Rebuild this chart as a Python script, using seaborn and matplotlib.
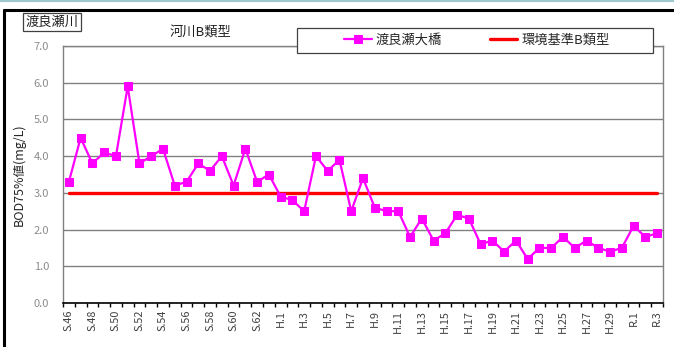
import matplotlib
matplotlib.use("Agg")
import matplotlib.pyplot as plt
from matplotlib.lines import Line2D
from matplotlib.patches import Rectangle
import seaborn as sns
import pandas as pd
import numpy as np

# Fiscal years (Showa 46 – Reiwa 3)
years = ([f"S.{i}" for i in range(46, 64)]
         + [f"H.{i}" for i in range(1, 31)]
         + [f"R.{i}" for i in range(1, 4)])

# BOD 75% values at 渡良瀬大橋 (mg/L)
bod75 = [3.3, 4.5, 3.8, 4.1, 4.0, 5.9, 3.8, 4.0, 4.2, 3.2,
         3.3, 3.8, 3.6, 4.0, 3.2, 4.2, 3.3, 3.5,
         2.9, 2.8, 2.5, 4.0, 3.6, 3.9, 2.5, 3.4, 2.6, 2.5,
         2.5, 1.8, 2.3, 1.7, 1.9, 2.4, 2.3, 1.6, 1.7, 1.4,
         1.7, 1.2, 1.5, 1.5, 1.8, 1.5, 1.7, 1.5, 1.4, 1.5,
         2.1, 1.8, 1.9]

# Environmental standard for river class B
standard_b = [3.0] * len(years)

y_ticks = [0.0, 1.0, 2.0, 3.0, 4.0, 5.0, 6.0, 7.0]

series_name = "渡良瀬大橋"
standard_name = "環境基準B類型"

sns.set_theme(style="white")
plt.rcParams["font.family"] = ["Noto Sans CJK JP", "DejaVu Sans"]

df = pd.DataFrame({"pos": np.arange(len(years)), "year": years,
                   "bod": bod75, "std": standard_b})

W, H = 674, 347
fig = plt.figure(figsize=(W / 100, H / 100), dpi=100)
ax = fig.add_axes([63 / W, 1 - 303 / H, 600 / W, 257 / H])

sns.lineplot(data=df, x="pos", y="std", ax=ax, color="#ff0000",
             linewidth=2.4, label=standard_name, zorder=2)
sns.lineplot(data=df, x="pos", y="bod", ax=ax, color="#ff00ff",
             linewidth=1.6, marker="s", markersize=5.8,
             markeredgecolor="#ff00ff", label=series_name, zorder=3)

ax.set_xlim(-0.5, len(years) - 0.5)
ax.set_ylim(0, 7)
ax.set_yticks(y_ticks)
ax.set_yticklabels([f"{v:.1f}" for v in y_ticks], color="#8c8c8c", fontsize=8)
ax.yaxis.grid(True, color="#808080", linewidth=1.0)
ax.set_axisbelow(True)

# category labels every other year, tick marks on category boundaries
ax.set_xticks(np.arange(0, len(years), 2))
ax.set_xticklabels(years[::2], rotation=90, fontsize=7.8, color="#404040")
ax.set_xticks(np.arange(-0.5, len(years), 1), minor=True)
ax.tick_params(axis="x", which="major", length=0, pad=5)
ax.tick_params(axis="x", which="minor", length=3, width=1, color="black",
               direction="out", bottom=True)
ax.tick_params(axis="y", length=0, pad=10)

for side in ["top", "right", "left"]:
    ax.spines[side].set_color("#808080")
    ax.spines[side].set_linewidth(1.0)
ax.spines["bottom"].set_color("black")
ax.spines["bottom"].set_linewidth(1.2)

ax.set_xlabel("")
ax.set_ylabel("BOD75%値(mg/L)", fontsize=9, labelpad=6)

# legend box across the top, entries centred inside it
fig.add_artist(Rectangle((297 / W, 1 - 53 / H), 356 / W, 25 / H,
                         transform=fig.transFigure, facecolor="white",
                         edgecolor="#404040", linewidth=0.9, zorder=4))
handles, labels = ax.get_legend_handles_labels()
order = [labels.index(series_name), labels.index(standard_name)]
leg = fig.legend([handles[i] for i in order], [labels[i] for i in order],
                 loc="center", bbox_to_anchor=(477 / W, 1 - 40.5 / H),
                 ncol=2, frameon=False, fontsize=9.5,
                 handlelength=2.1, handletextpad=0.3, columnspacing=3.6,
                 borderpad=0.0, borderaxespad=0.0)
leg.set_zorder(5)
ax.get_legend().remove()

fig.text(200 / W, 1 - 33 / H, "河川B類型", ha="center", va="center",
         fontsize=9.5, color="#202020")
fig.text(52 / W, 1 - 22 / H, "渡良瀬川", ha="center", va="center",
         fontsize=9.5, color="#202020",
         bbox=dict(boxstyle="square,pad=0.2", facecolor="white",
                   edgecolor="#404040", linewidth=0.9))

# outer frame (left and top edges) and thin rule at the very top
fig.add_artist(Line2D([4 / W, 4 / W], [0, 1 - 9.5 / H], transform=fig.transFigure,
                      color="black", linewidth=2.2))
fig.add_artist(Line2D([4 / W, 1], [1 - 9.5 / H, 1 - 9.5 / H],
                      transform=fig.transFigure, color="black", linewidth=2.2))
fig.add_artist(Line2D([0, 1], [1 - 1 / H, 1 - 1 / H], transform=fig.transFigure,
                      color="#9ec9cc", linewidth=1.5))

fig.savefig("out.png", dpi=100)
